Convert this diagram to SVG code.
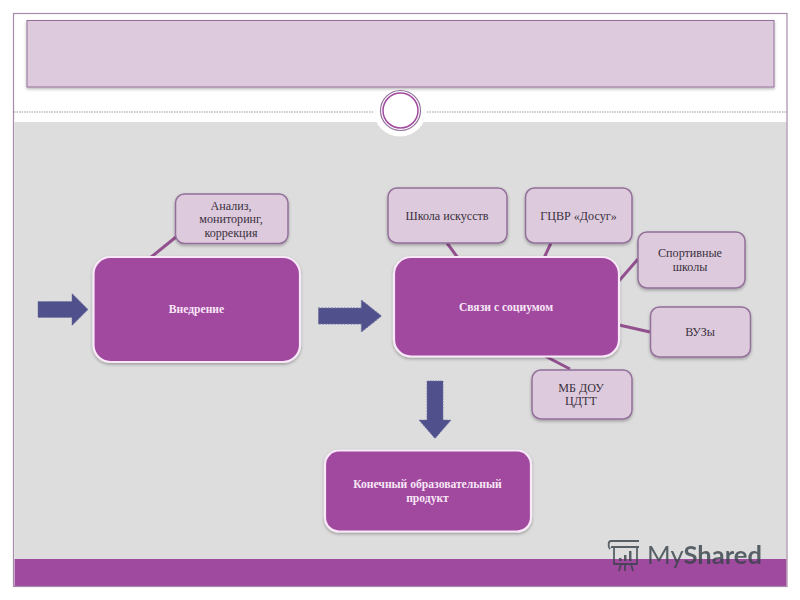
<svg xmlns="http://www.w3.org/2000/svg" width="800" height="600" viewBox="0 0 800 600">
<defs>
<filter id="sh" x="-10%" y="-10%" width="120%" height="125%"><feDropShadow dx="0" dy="1.5" stdDeviation="1.5" flood-color="#000" flood-opacity="0.3"/></filter>
<polygon id="arrow" points="0,-8 34,-8 34,-16 50,0 34,16 34,8 0,8"/>
</defs>
<style>
.main rect{fill:#a04a9f;stroke:#f8e8f8;stroke-width:2.2;filter:url(#sh)}
.sub rect{fill:#ddcbdd;stroke:#93709a;stroke-width:1.5;filter:url(#sh)}
text{font-family:"Liberation Serif","DejaVu Serif",serif;font-size:12.100px;text-anchor:middle}
.main text{fill:#f8e6f6;font-weight:bold;font-size:11.600px}
.sub text{fill:#3b3040}
.arr{fill:#50508c;stroke:#6e6e9e;stroke-width:0.8;stroke-dasharray:1.5 1}
#connectors line{stroke:#93508f;stroke-width:3}
</style>
<rect width="800" height="600" fill="#fff"/>
<g id="frame">
<rect x="14.500" y="122" width="772" height="437" fill="#dcdddc"/>
<rect x="14.500" y="559" width="772" height="27" fill="#a04a9f"/>
<rect x="13.500" y="13.500" width="773.500" height="573" fill="none" stroke="#a78aa8" stroke-width="1.200"/>
<circle cx="400" cy="110" r="26.500" fill="#fff"/>
<rect x="27" y="20.500" width="747" height="66.500" fill="#ddcbdd" stroke="#93709a" stroke-width="1" filter="url(#sh)"/>
<line x1="14" y1="112" x2="373" y2="112" stroke="#999" stroke-width="1" stroke-dasharray="1.500 1"/>
<line x1="427" y1="112" x2="787" y2="112" stroke="#999" stroke-width="1" stroke-dasharray="1.500 1"/>
<circle cx="400.500" cy="110.500" r="20" fill="none" stroke="#93709a" stroke-width="1.200"/>
<circle cx="400.500" cy="110.500" r="17.500" fill="#fff" stroke="#a04a9f" stroke-width="1.500"/>
</g>
<g id="connectors">
<line x1="176" y1="237" x2="150" y2="258"/>
<line x1="447" y1="243" x2="458" y2="258"/>
<line x1="551" y1="243" x2="544" y2="258"/>
<line x1="638" y1="259" x2="618" y2="282"/>
<line x1="650" y1="332" x2="619" y2="325"/>
<line x1="570" y1="369" x2="545" y2="356"/>
</g>
<g id="arrows" class="arr">
<use href="#arrow" transform="translate(38,309.500)"/>
<use href="#arrow" transform="translate(318.500,316) scale(1.260,1)"/>
<use href="#arrow" transform="translate(435,381) rotate(90) scale(1.150,1)"/>
</g>
<g id="node-vnedrenie" class="main"><rect x="93.500" y="257" width="206.500" height="105" rx="17"/><text x="196.500" y="313">Внедрение</text></g>
<g id="node-svyazi" class="main"><rect x="394" y="257" width="225" height="99.500" rx="17"/><text x="506" y="311">Связи с социумом</text></g>
<g id="node-product" class="main"><rect x="325" y="450.500" width="206" height="81" rx="14"/><text x="427.500" y="488">Конечный образовательный</text><text x="427.500" y="502">продукт</text></g>
<g id="node-analiz" class="sub"><rect x="175.500" y="194" width="112.500" height="49.500" rx="9"/><text x="231" y="210">Анализ,</text><text x="231" y="223">мониторинг,</text><text x="231" y="237">коррекция</text></g>
<g id="node-shkola" class="sub"><rect x="388" y="188" width="119" height="55" rx="9"/><text x="447" y="220">Школа искусств</text></g>
<g id="node-gcvr" class="sub"><rect x="525.500" y="188" width="106.500" height="55" rx="9"/><text x="578.500" y="220">ГЦВР «Досуг»</text></g>
<g id="node-sport" class="sub"><rect x="638" y="232" width="107" height="56" rx="9"/><text x="690" y="257">Спортивные</text><text x="690" y="271">школы</text></g>
<g id="node-vuzy" class="sub"><rect x="650.500" y="307" width="100" height="50" rx="9"/><text x="700" y="336">ВУЗы</text></g>
<g id="node-mb" class="sub"><rect x="532" y="370" width="100" height="49" rx="9"/><text x="581" y="392">МБ ДОУ</text><text x="581" y="405">ЦДТТ</text></g>
<g id="watermark" opacity="0.8">
<g fill="none" stroke="#38424a" stroke-width="1.800">
<path d="M611 541h28M611 547h28M614 547v17h23v-17M611 541c-3 0-3 6-1 8"/>
<path d="M621 564l-2 7M625 564v7M631 564l2 7"/>
</g>
<g fill="#38424a"><rect x="619" y="558" width="2.500" height="3"/><rect x="624" y="555" width="2.500" height="6"/><rect x="629" y="551" width="2.500" height="10"/></g>
<text x="647" y="564" style="font-family:'Lato','Open Sans',sans-serif;font-size:25.500px;text-anchor:start;fill:#38424a">My<tspan font-weight="bold">Shared</tspan></text>
</g>
</svg>
